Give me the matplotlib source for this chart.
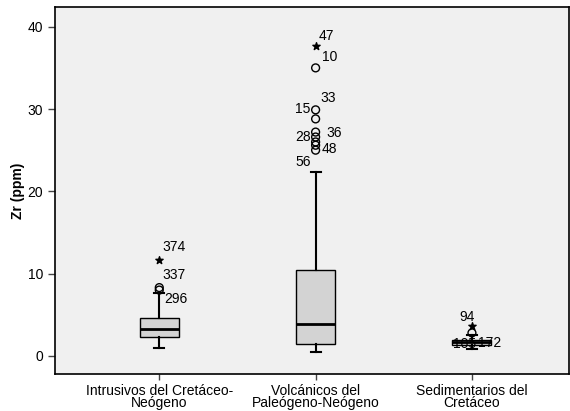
import matplotlib
matplotlib.use("Agg")
import matplotlib.pyplot as plt

plt.rcParams['font.family'] = ['Liberation Sans', 'DejaVu Sans']

categories = ["Intrusivos del Cretáceo-\nNeógeno",
              "Volcánicos del\nPaleógeno-Neógeno",
              "Sedimentarios del\nCretáceo"]

# box stats
whislo = [1.0, 0.5, 0.8]
q1 = [2.3, 1.5, 1.35]
med = [3.3, 3.9, 1.65]
q3 = [4.6, 10.4, 1.95]
whishi = [7.7, 22.3, 2.5]

# outliers (group index, value, label)
circ_grp = [0, 0, 1, 1, 1, 1, 1, 1, 1, 1, 2]
circ_val = [8.3, 8.0, 35.0, 29.9, 28.8, 27.2, 26.6, 26.0, 25.6, 25.0, 2.8]
star_grp = [0, 1, 2]
star_val = [11.7, 37.6, 3.6]

lab_txt = ["374", "337", "296", "47", "10", "33", "15", "28", "36", "48", "56", "94", "105", "172"]
lab_x = [1.02, 1.02, 1.03, 2.02, 2.04, 2.03, 1.87, 1.87, 2.07, 2.04, 1.87, 2.92, 2.88, 3.04]
lab_y = [13.2, 9.8, 6.9, 38.9, 36.3, 31.3, 30.0, 26.6, 27.1, 25.2, 23.6, 4.7, 1.4, 1.6]

fig = plt.figure(figsize=(5.7, 4.11), dpi=100)
ax = fig.add_axes([0.0965, 0.09, 0.9015, 0.893])
ax.set_facecolor('#F0F0F0')

stats = []
for i in range(3):
    stats.append(dict(whislo=whislo[i], q1=q1[i], med=med[i], q3=q3[i],
                      whishi=whishi[i], fliers=[]))
ax.bxp(stats, positions=[1, 2, 3], widths=0.25, patch_artist=True,
       boxprops=dict(facecolor='#D3D3D3', edgecolor='#000000', linewidth=1.0),
       medianprops=dict(color='black', linewidth=2),
       whiskerprops=dict(color='black', linewidth=1.5),
       capprops=dict(color='black', linewidth=1.5),
       capwidths=0.065)

ax.scatter([g + 1 for g in circ_grp], circ_val, s=32, marker='o',
           facecolors='none', edgecolors='black', linewidths=1.0, zorder=3)
ax.scatter([g + 1 for g in star_grp], star_val, s=30, marker='*',
           color='black', zorder=3)

for t, x, y in zip(lab_txt, lab_x, lab_y):
    ax.text(x, y, t, fontsize=10, ha='left', va='center')

ax.set_xlim(0.333, 3.62)
ax.set_ylim(-2.2, 42.4)
ax.set_yticks([0, 10, 20, 30, 40])
ax.set_xticks([1, 2, 3])
ax.set_xticklabels(categories, fontsize=10, linespacing=0.85)
ax.tick_params(axis='y', labelsize=10, length=5, width=1, color='#444444')
ax.tick_params(axis='x', length=4, width=1, color='#444444', pad=3)
ax.set_ylabel("Zr (ppm)", fontsize=10, fontweight='bold', labelpad=2)

for s in ax.spines.values():
    s.set_color('black')
    s.set_linewidth(1.2)

fig.savefig("out.png", dpi=100)
